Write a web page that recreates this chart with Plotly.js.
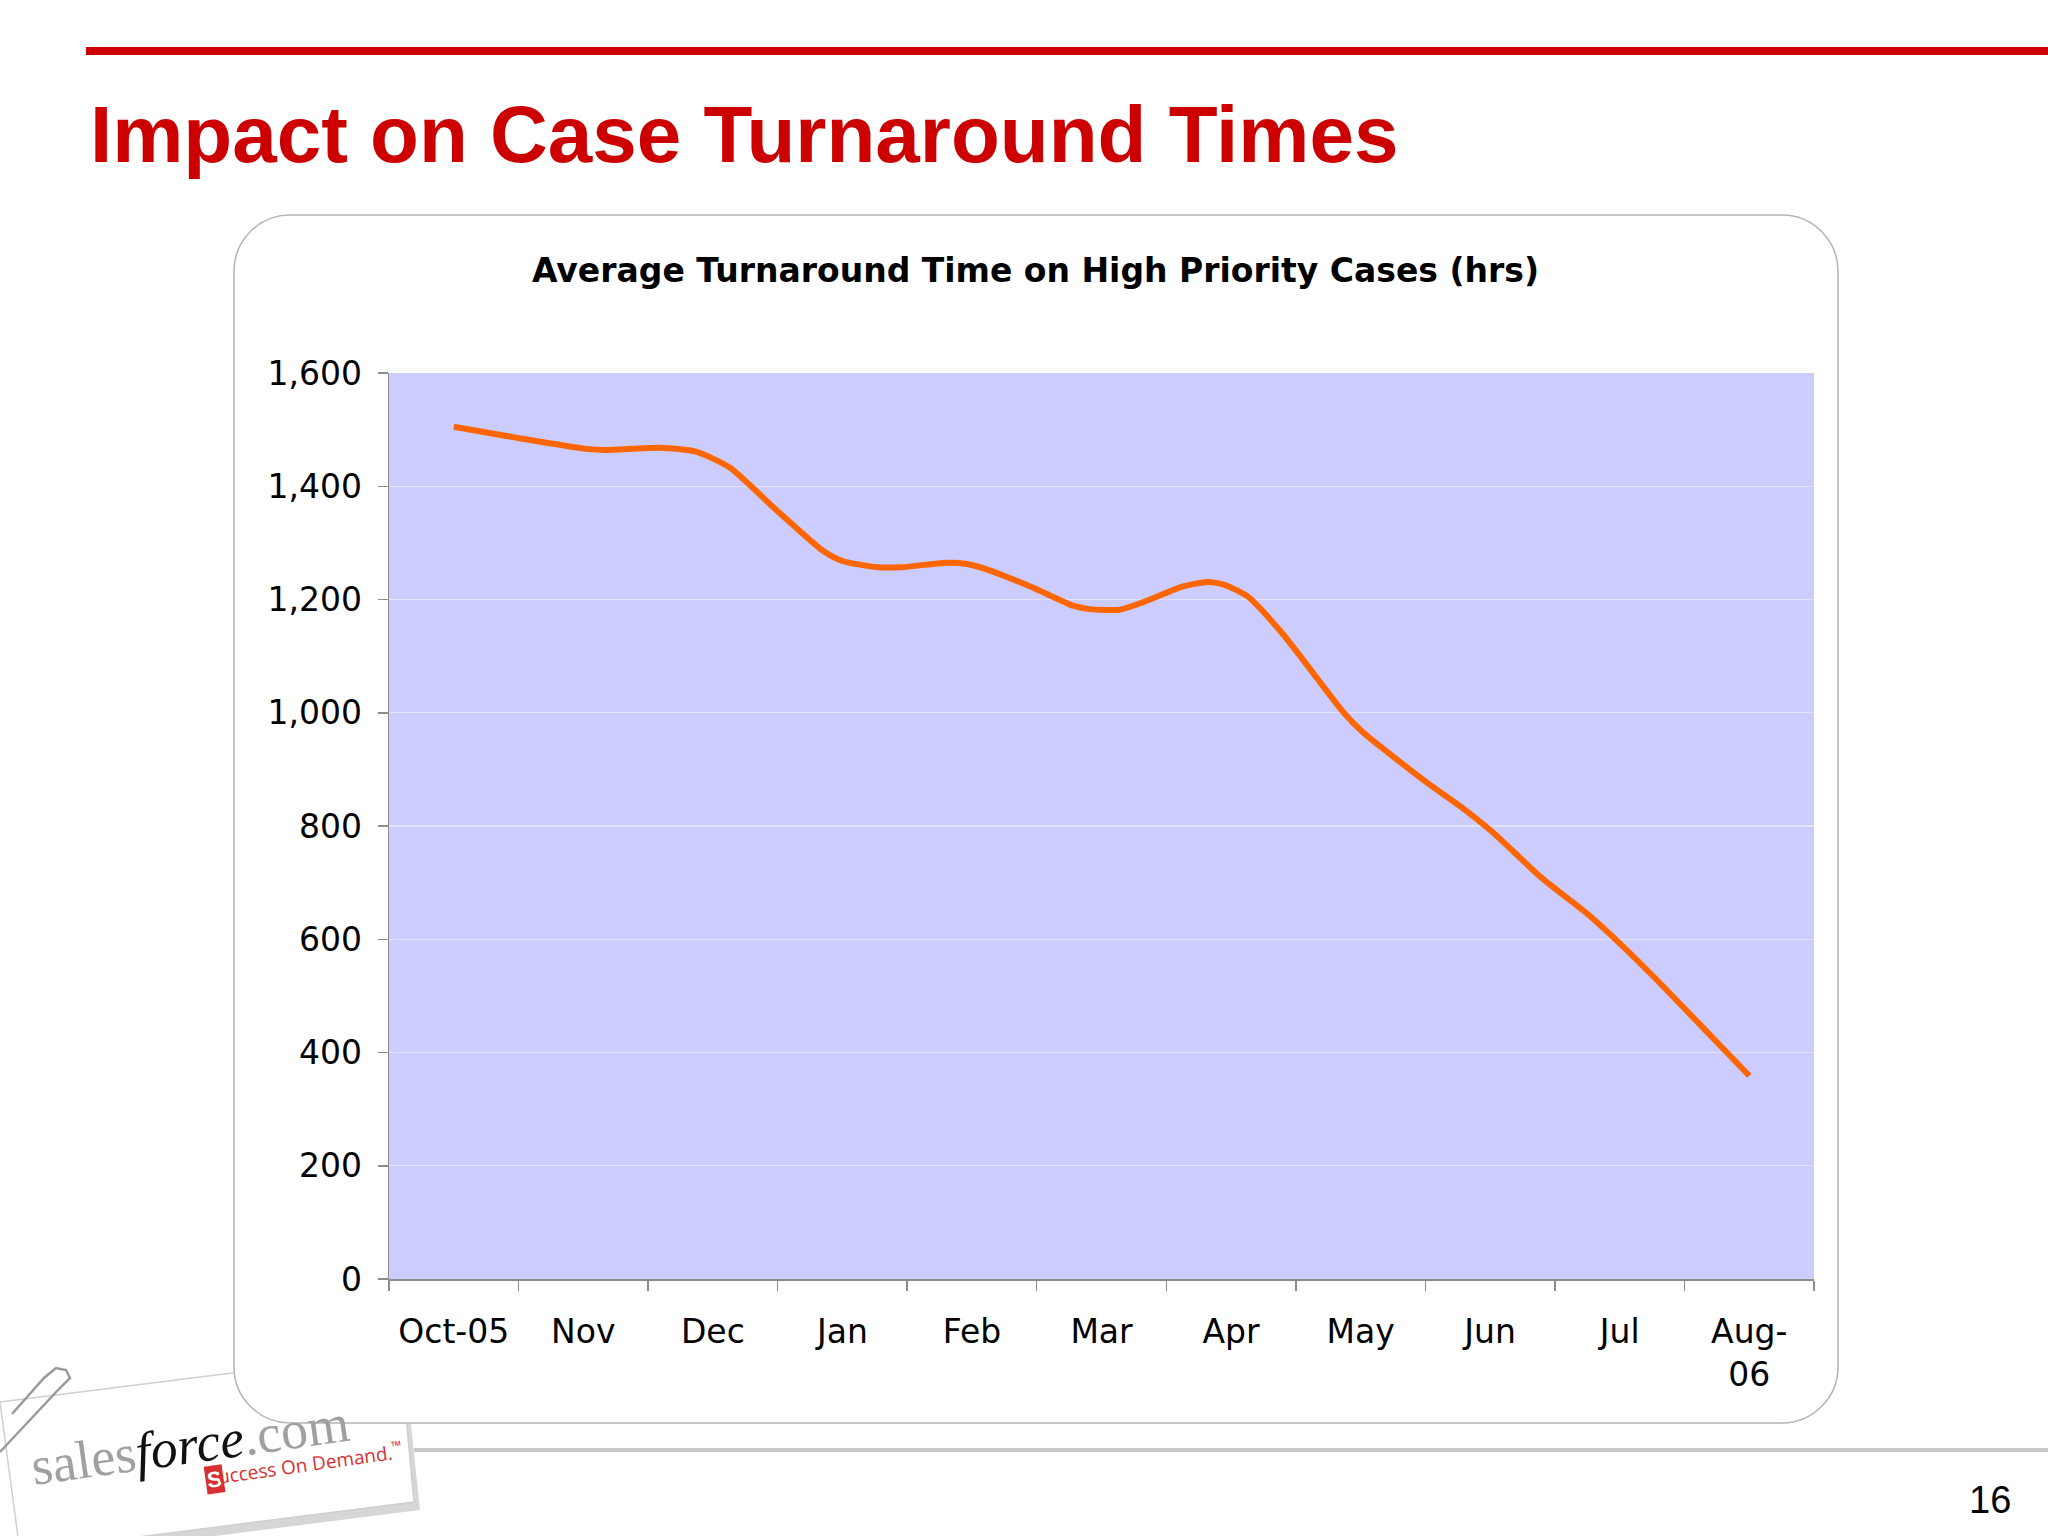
<!DOCTYPE html>
<html>
<head>
<meta charset="utf-8">
<script src="https://cdn.plot.ly/plotly-3.0.1.min.js"></script>
<style>
  html, body { margin: 0; padding: 0; background: #ffffff; }
  #chart { width: 2048px; height: 1536px; }
</style>
</head>
<body>
<div id="chart"></div>
<script>
// ---- data ----
const months = ['Oct-05', 'Nov', 'Dec', 'Jan', 'Feb', 'Mar', 'Apr', 'May', 'Jun', 'Jul', 'Aug-06'];
const monthLabels = ['Oct-05', 'Nov', 'Dec', 'Jan', 'Feb', 'Mar', 'Apr', 'May', 'Jun', 'Jul', 'Aug-<br>06'];
// position along the month axis (0 = Oct-05 ... 10 = Aug-06) and turnaround hours
const pointMonth = [0.00, 0.50, 1.02, 1.17, 1.59, 1.87, 2.13, 2.49, 2.85, 3.00, 3.27, 3.46, 3.80, 3.95,
                    4.13, 4.47, 4.78, 4.91, 5.14, 5.32, 5.63, 5.82, 5.95, 6.13, 6.40, 6.87, 7.02, 7.51,
                    7.78, 8.02, 8.40, 8.75, 8.99, 9.27, 9.60, 10.00];
const turnaroundHrs = [1505, 1485, 1466, 1464, 1468, 1461, 1433, 1358, 1286, 1268, 1257, 1257, 1265, 1263,
                       1252, 1221, 1189, 1183, 1182, 1195, 1223, 1231, 1226, 1205, 1139, 1000, 965, 877,
                       833, 789, 708, 645, 595, 532, 454, 359];
const yTicks = [0, 200, 400, 600, 800, 1000, 1200, 1400, 1600];

const slideTitle = 'Impact on Case Turnaround Times';
const chartTitle = 'Average Turnaround Time on High Priority Cases (hrs)';
const pageNumber = '16';

// ---- geometry helpers (pixel -> paper) ----
const W = 2048, H = 1536;
const L = 389, R = 1814, T = 373, B = 1279;
const PW = R - L, PH = B - T;
const X = px => (px - L) / PW;
const Y = py => (B - py) / PH;

function roundRect(x0, y0, x1, y1, r) {
  const k = 0.55 * r;
  const pts = [
    ['M', x0 + r, y0],
    ['L', x1 - r, y0],
    ['C', x1 - r + k, y0, x1, y0 + r - k, x1, y0 + r],
    ['L', x1, y1 - r],
    ['C', x1, y1 - r + k, x1 - r + k, y1, x1 - r, y1],
    ['L', x0 + r, y1],
    ['C', x0 + r - k, y1, x0, y1 - r + k, x0, y1 - r],
    ['L', x0, y0 + r],
    ['C', x0, y0 + r - k, x0 + r - k, y0, x0 + r, y0]
  ];
  return pts.map(p => {
    const cmd = p[0];
    const c = [];
    for (let i = 1; i < p.length; i += 2) c.push(X(p[i]).toFixed(5) + ',' + Y(p[i + 1]).toFixed(5));
    return cmd + c.join(' ');
  }).join(' ') + ' Z';
}
function poly(points) {
  return points.map((p, i) => (i ? 'L' : 'M') + X(p[0]).toFixed(5) + ',' + Y(p[1]).toFixed(5)).join(' ') + ' Z';
}
function openPath(points) {
  return points.map((p, i) => (i ? 'L' : 'M') + X(p[0]).toFixed(5) + ',' + Y(p[1]).toFixed(5)).join(' ');
}

// ---- traces ----
const catTrace = {
  type: 'scatter', mode: 'markers',
  x: months, y: months.map(() => null),
  xaxis: 'x', yaxis: 'y',
  showlegend: false, hoverinfo: 'skip'
};
const lineTrace = {
  type: 'scatter', mode: 'lines',
  x: pointMonth, y: turnaroundHrs,
  xaxis: 'x2', yaxis: 'y',
  line: { color: '#FF6600', width: 6, shape: 'spline', smoothing: 0.6 },
  showlegend: false
};

// ---- decorations ----
const shapes = [
  // logo card shadow + card
  { type: 'path', xref: 'paper', yref: 'paper', layer: 'below',
    path: poly([[4, 1408], [404, 1358], [420, 1510], [26, 1560]]),
    fillcolor: 'rgba(0,0,0,0.16)', line: { width: 0 } },
  { type: 'path', xref: 'paper', yref: 'paper', layer: 'below',
    path: poly([[0, 1402], [400, 1352], [414, 1502], [20, 1552]]),
    fillcolor: '#ffffff', line: { color: '#cfcfcf', width: 1.5 } },
  // paper clip
  { type: 'path', xref: 'paper', yref: 'paper', layer: 'below',
    path: openPath([[0, 1452], [58, 1390], [70, 1378], [66, 1370], [56, 1368], [44, 1378], [12, 1414]]),
    line: { color: '#9a9a9a', width: 2.5 } },
  // bottom grey rule
  { type: 'line', xref: 'paper', yref: 'paper', layer: 'below',
    x0: X(414), x1: X(2048), y0: Y(1450), y1: Y(1450),
    line: { color: '#c8c8c8', width: 4 } },
  // red top bar
  { type: 'rect', xref: 'paper', yref: 'paper', layer: 'below',
    x0: X(86), x1: X(2048), y0: Y(47), y1: Y(55),
    fillcolor: '#CC0000', line: { width: 0 } },
  // chart panel
  { type: 'path', xref: 'paper', yref: 'paper', layer: 'below',
    path: roundRect(234, 215, 1838, 1423, 56),
    fillcolor: '#ffffff', line: { color: '#b4b4b4', width: 1.5 } },
  // plot area background
  { type: 'rect', xref: 'paper', yref: 'paper', layer: 'below',
    x0: 0, x1: 1, y0: 0, y1: 1,
    fillcolor: '#CCCCFF', line: { width: 0 } }
];

const annotations = [
  { text: '<b>' + slideTitle + '</b>', xref: 'paper', yref: 'paper',
    x: X(88), y: Y(134), xanchor: 'left', yanchor: 'middle', showarrow: false,
    font: { family: 'Liberation Sans, Arial, sans-serif', size: 80, color: '#CC0000' } },
  { text: '<b>' + chartTitle + '</b>', xref: 'paper', yref: 'paper',
    x: X(1035), y: Y(270), xanchor: 'center', yanchor: 'middle', showarrow: false,
    font: { family: 'DejaVu Sans, Verdana, sans-serif', size: 33, color: '#000000' } },
  { text: pageNumber, xref: 'paper', yref: 'paper',
    x: X(1990), y: Y(1500), xanchor: 'center', yanchor: 'middle', showarrow: false,
    font: { family: 'Liberation Sans, Arial, sans-serif', size: 38, color: '#000000' } },
  // logo text
  { text: '<span style="color:#a0a0a0">sales</span><i>force</i><span style="color:#a0a0a0">.com</span>',
    xref: 'paper', yref: 'paper', x: X(190), y: Y(1445), xanchor: 'center', yanchor: 'middle',
    showarrow: false, textangle: -8,
    font: { family: 'Liberation Serif, Times New Roman, serif', size: 54, color: '#111111' } },
  { text: '<b>S</b>', xref: 'paper', yref: 'paper', x: X(214), y: Y(1479), xanchor: 'center', yanchor: 'middle',
    showarrow: false, textangle: -8, bgcolor: '#D83030', borderpad: 1,
    font: { family: 'Liberation Sans, Arial, sans-serif', size: 22, color: '#ffffff' } },
  { text: 'uccess On Demand.<sup>™</sup>', xref: 'paper', yref: 'paper', x: X(310), y: Y(1463), xanchor: 'center', yanchor: 'middle',
    showarrow: false, textangle: -8,
    font: { family: 'Open Sans, Liberation Sans, sans-serif', size: 19, color: '#D83030' } }
];

const layout = {
  width: W, height: H,
  margin: { l: L, r: W - R, t: T, b: H - B, pad: 0 },
  paper_bgcolor: '#ffffff',
  plot_bgcolor: 'rgba(0,0,0,0)',
  showlegend: false,
  xaxis: {
    type: 'category',
    categoryorder: 'array', categoryarray: months,
    tickvals: months, ticktext: monthLabels,
    range: [-0.5, months.length - 0.5],
    tickson: 'boundaries',
    ticks: 'outside', ticklen: 10, tickwidth: 1.5, tickcolor: '#8c8c8c',
    showline: true, linecolor: '#8c8c8c', linewidth: 2,
    showgrid: false, zeroline: false,
    ticklabelstandoff: 22,
    tickfont: { family: 'DejaVu Sans, Verdana, sans-serif', size: 33, color: '#000000' },
    fixedrange: true
  },
  xaxis2: {
    overlaying: 'x', range: [-0.5, months.length - 0.5], visible: false, fixedrange: true
  },
  yaxis: {
    range: [0, 1600],
    tickvals: yTicks, tickformat: ',d',
    ticks: 'outside', ticklen: 10, tickwidth: 1.5, tickcolor: '#8c8c8c',
    showline: true, linecolor: '#8c8c8c', linewidth: 1.5,
    showgrid: true, gridcolor: '#E2E2FA', gridwidth: 1.2,
    zeroline: false,
    ticklabelstandoff: 9,
    tickfont: { family: 'DejaVu Sans, Verdana, sans-serif', size: 33, color: '#000000' },
    fixedrange: true
  },
  shapes: shapes,
  annotations: annotations
};

Plotly.newPlot('chart', [catTrace, lineTrace], layout, { displayModeBar: false, staticPlot: true });
</script>
</body>
</html>
